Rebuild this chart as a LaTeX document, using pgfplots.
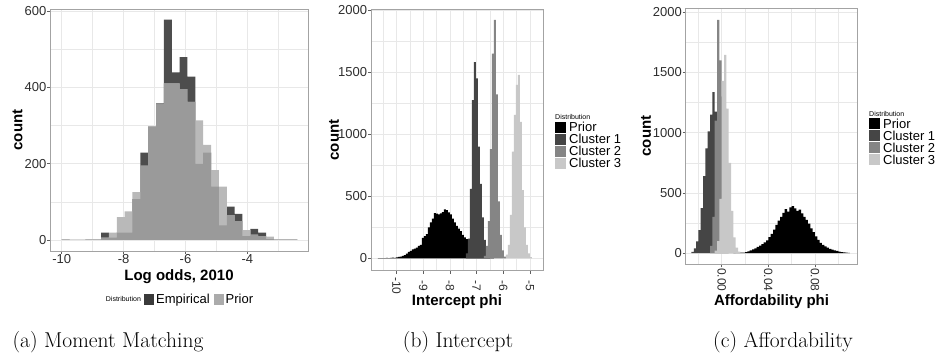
\documentclass[border=0pt]{standalone}
\usepackage{pgfplots}
\pgfplotsset{compat=1.18}
\usepackage{fontspec}
\newfontfamily\arial{Liberation Sans}
\definecolor{gridc}{HTML}{E8E8E8}
\definecolor{bordc}{HTML}{A3A3A3}
\definecolor{tickc}{HTML}{606060}
\definecolor{labc}{HTML}{2E2E2E}
\definecolor{empc}{HTML}{4D4D4D}
\definecolor{prlc}{HTML}{B9B9B9}
\definecolor{ovlc}{HTML}{9A9A9A}
\definecolor{kempc}{HTML}{3A3A3A}
\definecolor{kprc}{HTML}{ABABAB}
\definecolor{cla}{HTML}{454545}
\definecolor{clb}{HTML}{858585}
\definecolor{clc}{HTML}{C8C8C8}
\pgfplotsset{gg/.style={
  scale only axis, anchor=south west,
  axis line style={draw=bordc, line width=0.8pt},
  grid=both,
  major grid style={draw=gridc, line width=0.7pt},
  minor grid style={draw=gridc, line width=0.4pt},
  tick align=outside, tick pos=left,
  major tick length=3pt, minor tick length=0pt,
  tick style={draw=tickc, line width=0.6pt},
  tick label style={font=\arial\fontsize{13}{13}\selectfont, text=labc, inner sep=0pt},
  yticklabel style={anchor=east, xshift=-0.7pt},
}}
\newcommand{\lkey}[3]{\node[anchor=west,inner sep=0pt] at (#1,#2) {\textcolor{#3}{\rule{10.5pt}{11pt}}};}
\newcommand{\ltxt}[3]{\node[anchor=base west,inner sep=0pt,font=\arial\fontsize{13}{13}\selectfont] at (#1,#2) {#3};}
\begin{document}
\begin{tikzpicture}[x=1pt,y=1pt]
% ---------------- (a) ----------------
\begin{axis}[gg, at={(50.3pt,-251pt)}, width=258pt, height=242pt,
  xmin=-10.37, xmax=-2.03, ymin=-29, ymax=605,
  xtick={-10,-8,-6,-4}, xticklabels={-10,-8,-6,-4}, minor xtick={-9,-7,-5,-3},
  ytick={0,200,400,600}, yticklabels={0,200,400,600}, minor ytick={100,300,500},
  xticklabel style={anchor=north, yshift=-0.5pt}]
\addplot[const plot mark left, fill=empc, draw=none] coordinates {
(-10.000,0) (-9.746,0) (-9.492,0) (-9.238,0) (-8.984,0) (-8.730,19) (-8.476,6) (-8.222,19) (-7.968,19) (-7.714,107)
(-7.460,229) (-7.206,297) (-6.952,358) (-6.698,577) (-6.444,439) (-6.190,479) (-5.936,428) (-5.682,199) (-5.428,229) (-5.174,140)
(-4.920,38) (-4.666,87) (-4.412,68) (-4.158,10) (-3.904,29) (-3.650,19) (-3.396,2) (-3.142,0) (-2.888,0) (-2.634,0) (-2.380,0)} \closedcycle;
\addplot[const plot mark left, fill=prlc, draw=none] coordinates {
(-10.000,2) (-9.746,0) (-9.492,0) (-9.238,2) (-8.984,2) (-8.730,6) (-8.476,19) (-8.222,60) (-7.968,75) (-7.714,125)
(-7.460,195) (-7.206,298) (-6.952,355) (-6.698,410) (-6.444,410) (-6.190,395) (-5.936,362) (-5.682,313) (-5.428,249) (-5.174,183)
(-4.920,140) (-4.666,65) (-4.412,49) (-4.158,26) (-3.904,14) (-3.650,10) (-3.396,9) (-3.142,2) (-2.888,2) (-2.634,2) (-2.380,2)} \closedcycle;
\addplot[const plot mark left, fill=ovlc, draw=none] coordinates {
(-10.000,0) (-9.746,0) (-9.492,0) (-9.238,0) (-8.984,0) (-8.730,6) (-8.476,6) (-8.222,19) (-7.968,19) (-7.714,107)
(-7.460,195) (-7.206,297) (-6.952,355) (-6.698,410) (-6.444,410) (-6.190,395) (-5.936,362) (-5.682,199) (-5.428,229) (-5.174,140)
(-4.920,38) (-4.666,65) (-4.412,49) (-4.158,10) (-3.904,14) (-3.650,10) (-3.396,2) (-3.142,0) (-2.888,0) (-2.634,0) (-2.380,0)} \closedcycle;
\end{axis}
% ---------------- (b) ----------------
\begin{axis}[gg, at={(371pt,-270.7pt)}, width=172pt, height=261.4pt,
  xmin=-10.96, xmax=-4.51, ymin=-99, ymax=2006,
  xtick={-10,-9,-8,-7,-6,-5}, xticklabels={-10,-9,-8,-7,-6,-5},
  minor xtick={-10.5,-9.5,-8.5,-7.5,-6.5,-5.5},
  ytick={0,500,1000,1500,2000}, yticklabels={0,500,1000,1500,2000}, minor ytick={250,750,1250,1750},
  xticklabel style={rotate=-90, anchor=center, font=\arial\fontsize{12}{12}\selectfont}, xticklabel shift=12pt]
\addplot[const plot mark left, fill=black, draw=none] coordinates {
(-10.700,2) (-10.625,2) (-10.550,3) (-10.475,2) (-10.400,4) (-10.325,3) (-10.250,5) (-10.175,6) (-10.100,5) (-10.025,8)
(-9.950,12) (-9.875,15) (-9.800,20) (-9.725,27) (-9.650,38) (-9.575,52) (-9.500,60) (-9.425,72) (-9.350,78) (-9.275,86)
(-9.200,100) (-9.125,110) (-9.050,165) (-8.975,180) (-8.900,195) (-8.825,250) (-8.750,290) (-8.675,320) (-8.600,365) (-8.525,360)
(-8.450,355) (-8.375,362) (-8.300,372) (-8.225,395) (-8.150,388) (-8.075,370) (-8.000,355) (-7.925,320) (-7.850,290) (-7.775,262)
(-7.700,240) (-7.625,220) (-7.550,190) (-7.475,170) (-7.400,155) (-7.325,140) (-7.250,120) (-7.175,95) (-7.100,85) (-7.025,70)
(-6.950,55) (-6.875,48) (-6.800,35) (-6.725,25) (-6.650,18) (-6.575,10) (-6.500,5) (-6.425,2) (-6.350,2)} \closedcycle;
\addplot[const plot mark left, fill=cla, draw=none] coordinates {
(-7.400,40) (-7.325,160) (-7.250,560) (-7.175,1275) (-7.100,1580) (-7.025,1450) (-6.950,900) (-6.875,600) (-6.800,330) (-6.725,150)
(-6.650,60) (-6.575,20) (-6.500,20)} \closedcycle;
\addplot[const plot mark left, fill=clb, draw=none] coordinates {
(-6.725,20) (-6.650,100) (-6.575,300) (-6.500,880) (-6.425,1650) (-6.350,1920) (-6.275,1320) (-6.200,460) (-6.125,190) (-6.050,65)
(-5.975,15) (-5.900,15)} \closedcycle;
\addplot[const plot mark left, fill=clc, draw=none] coordinates {
(-5.900,30) (-5.825,110) (-5.750,350) (-5.675,860) (-5.600,1156) (-5.525,1398) (-5.450,1478) (-5.375,1100) (-5.300,550) (-5.225,250)
(-5.150,110) (-5.075,40) (-5.000,10) (-4.925,10)} \closedcycle;
\end{axis}
% ---------------- (c) ----------------
\begin{axis}[gg, at={(685.7pt,-264.3pt)}, width=171.6pt, height=256pt,
  xmin=-0.0309, xmax=0.1163, ymin=-93, ymax=2033,
  xtick={0,0.04,0.08}, xticklabels={0.00,0.04,0.08},
  minor xtick={-0.02,0.02,0.06,0.10},
  ytick={0,500,1000,1500,2000}, yticklabels={0,500,1000,1500,2000}, minor ytick={250,750,1250,1750},
  xticklabel style={rotate=-90, anchor=center, font=\arial\fontsize{12}{12}\selectfont}, xticklabel shift=12.5pt]
\addplot[const plot mark left, fill=black, draw=none] coordinates {
(0.010,2) (0.012,2) (0.014,3) (0.016,3) (0.018,5) (0.020,8) (0.022,14) (0.024,22) (0.026,30) (0.028,40)
(0.030,52) (0.032,62) (0.034,75) (0.036,90) (0.038,105) (0.040,132) (0.042,160) (0.044,195) (0.046,235) (0.048,270)
(0.050,300) (0.052,335) (0.054,365) (0.056,345) (0.058,380) (0.060,390) (0.062,372) (0.064,350) (0.066,362) (0.068,330)
(0.070,300) (0.072,275) (0.074,245) (0.076,205) (0.078,175) (0.080,140) (0.082,110) (0.084,85) (0.086,68) (0.088,55)
(0.090,45) (0.092,35) (0.094,28) (0.096,22) (0.098,18) (0.100,13) (0.102,9) (0.104,7) (0.106,4) (0.108,2) (0.110,2)} \closedcycle;
\addplot[const plot mark left, fill=cla, draw=none] coordinates {
(-0.026,10) (-0.024,40) (-0.022,97) (-0.020,190) (-0.018,373) (-0.016,640) (-0.014,870) (-0.012,1010) (-0.010,1150) (-0.008,1336)
(-0.006,1175) (-0.004,850) (-0.002,500) (0.000,220) (0.002,70) (0.004,15) (0.006,15)} \closedcycle;
\addplot[const plot mark left, fill=clb, draw=none] coordinates {
(-0.010,60) (-0.008,300) (-0.006,1100) (-0.004,1936) (-0.002,1600) (0.000,1300) (0.002,900) (0.004,450) (0.006,150) (0.008,40)
(0.010,10) (0.012,10)} \closedcycle;
\addplot[const plot mark left, fill=clc, draw=none] coordinates {
(-0.006,20) (-0.004,100) (-0.002,450) (0.000,1430) (0.002,1646) (0.004,1200) (0.006,750) (0.008,350) (0.010,130) (0.012,45)
(0.014,12) (0.016,12)} \closedcycle;
\end{axis}
% ---------------- titles ----------------
\begin{scope}[font=\arial\bfseries\fontsize{15}{15}\selectfont]
\node[rotate=90,inner sep=0pt] at (17.5,-130) {count};
\node[rotate=90,inner sep=0pt] at (334,-140) {count};
\node[rotate=90,inner sep=0pt] at (646,-136) {count};
\node[anchor=base,inner sep=0pt] at (179,-280) {Log odds, 2010};
\node[anchor=base,inner sep=0pt] at (457,-305.5) {Intercept phi};
\node[anchor=base,inner sep=0pt] at (771.5,-305.7) {Affordability phi};
\end{scope}
% ---------------- legends ----------------
\begin{scope}
\node[anchor=west,inner sep=0pt,font=\arial\fontsize{7}{7}\selectfont] at (105.7,-299) {Distribution};
\lkey{143.3}{-299}{kempc}\ltxt{156}{-303.7}{Empirical}
\lkey{213.3}{-299}{kprc}\ltxt{225.5}{-303.7}{Prior}
\node[anchor=west,inner sep=0pt,font=\arial\fontsize{7}{7}\selectfont] at (555,-117) {Distribution};
\lkey{555}{-127}{black}\ltxt{569}{-131.7}{Prior}
\lkey{555}{-139}{cla}\ltxt{569}{-143.7}{Cluster 1}
\lkey{555}{-151}{clb}\ltxt{569}{-155.7}{Cluster 2}
\lkey{555}{-163}{clc}\ltxt{569}{-167.7}{Cluster 3}
\node[anchor=west,inner sep=0pt,font=\arial\fontsize{7}{7}\selectfont] at (869,-113.5) {Distribution};
\lkey{869}{-123.5}{black}\ltxt{883}{-128.2}{Prior}
\lkey{869}{-135.5}{cla}\ltxt{883}{-140.2}{Cluster 1}
\lkey{869}{-147.5}{clb}\ltxt{883}{-152.2}{Cluster 2}
\lkey{869}{-159.5}{clc}\ltxt{883}{-164.2}{Cluster 3}
\end{scope}
% ---------------- captions ----------------
\begin{scope}[font=\fontsize{21.5}{24}\selectfont]
\node[anchor=base,inner sep=0pt] at (108,-347) {(a) Moment Matching};
\node[anchor=base,inner sep=0pt] at (458,-347) {(b) Intercept};
\node[anchor=base,inner sep=0pt] at (783,-347) {(c) Affordability};
\end{scope}
\pgfresetboundingbox
\useasboundingbox (0,0) rectangle (935,-360);
\end{tikzpicture}
\end{document}
